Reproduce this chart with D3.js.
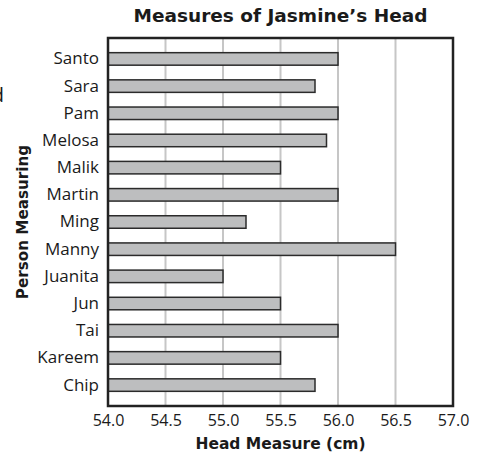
<!DOCTYPE html>
<html>
<head>
<meta charset="utf-8">
<script src="https://cdn.jsdelivr.net/npm/d3@7"></script>
<style>
  body { margin: 0; background: #fff; }
  svg { display: block; font-family: 'Open Sans', sans-serif; }
</style>
</head>
<body>
<div id="chart"></div>
<script>
const people = ['Santo', 'Sara', 'Pam', 'Melosa', 'Malik', 'Martin', 'Ming', 'Manny', 'Juanita', 'Jun', 'Tai', 'Kareem', 'Chip']
const measures = [56.0, 55.8, 56.0, 55.9, 55.5, 56.0, 55.2, 56.5, 55.0, 55.5, 56.0, 55.5, 55.8]
const xTicks = [54.0, 54.5, 55.0, 55.5, 56.0, 56.5, 57.0]

const W = 480
const H = 456
const margin = { top: 38, left: 108, right: 27, bottom: 50 }
const width = W - margin.left - margin.right
const height = H - margin.top - margin.bottom
const boldFont = "'DejaVu Sans', sans-serif"

const svg = d3.select('#chart')
  .append('svg')
  .attr('width', W)
  .attr('height', H)

const g = svg.append('g')
  .attr('transform', `translate(${margin.left}, ${margin.top})`)

const x = d3.scaleLinear() // cm
  .domain([54, 57])
  .range([0, width])

const y = d3.scaleBand()
  .domain(people)
  .range([0, height])
  .padding(0.54)

// grid lines
g.selectAll('.grid')
  .data(xTicks.slice(1, -1))
  .enter()
  .append('line')
  .attr('x1', d => x(d))
  .attr('x2', d => x(d))
  .attr('y1', 0)
  .attr('y2', height)
  .attr('stroke', '#c6c6c6')
  .attr('stroke-width', 2)

const data = people.map((p, i) => ({ name: p, value: measures[i] }))

g.selectAll('.bar')
  .data(data)
  .enter()
  .append('rect')
  .attr('x', x(54))
  .attr('y', d => y(d.name))
  .attr('width', d => x(d.value) - x(54))
  .attr('height', y.bandwidth())
  .attr('fill', '#bdbebf')
  .attr('stroke', '#2b2b2b')
  .attr('stroke-width', 1.5)

// frame
g.append('rect')
  .attr('width', width)
  .attr('height', height)
  .attr('fill', 'none')
  .attr('stroke', '#222')
  .attr('stroke-width', 2.5)

// axes (no tick marks, only labels)
const xAxis = g.append('g')
  .attr('transform', `translate(0, ${height})`)
  .call(d3.axisBottom(x).tickValues(xTicks).tickSize(0).tickPadding(9).tickFormat(d3.format('.1f')))
xAxis.select('.domain').remove()
xAxis.selectAll('text')
  .attr('font-size', 16)
  .attr('font-family', "'Open Sans', sans-serif")
  .attr('fill', '#1a1a1a')

const yAxis = g.append('g')
  .call(d3.axisLeft(y).tickSize(0).tickPadding(9))
yAxis.select('.domain').remove()
yAxis.selectAll('text')
  .attr('font-size', 17)
  .attr('font-family', "'Open Sans', sans-serif")
  .attr('fill', '#1a1a1a')

// titles
svg.append('text')
  .attr('x', margin.left + width / 2)
  .attr('y', 22)
  .attr('text-anchor', 'middle')
  .attr('font-family', boldFont)
  .attr('font-size', 18.5)
  .attr('font-weight', 'bold')
  .attr('fill', '#1a1a1a')
  .text('Measures of Jasmine’s Head')

svg.append('text')
  .attr('x', margin.left + width / 2)
  .attr('y', 449)
  .attr('text-anchor', 'middle')
  .attr('font-family', boldFont)
  .attr('font-size', 15.5)
  .attr('font-weight', 'bold')
  .attr('fill', '#1a1a1a')
  .text('Head Measure (cm)')

svg.append('text')
  .attr('transform', `translate(28, ${margin.top + height / 2}) rotate(-90)`)
  .attr('text-anchor', 'middle')
  .attr('font-family', boldFont)
  .attr('font-size', 15.2)
  .attr('font-weight', 'bold')
  .attr('fill', '#1a1a1a')
  .text('Person Measuring')

// cropped letter at the left edge of the source picture
svg.append('text')
  .attr('x', 4)
  .attr('y', 102)
  .attr('text-anchor', 'end')
  .attr('font-size', 20)
  .attr('fill', '#1a1a1a')
  .text('d')
</script>
</body>
</html>
